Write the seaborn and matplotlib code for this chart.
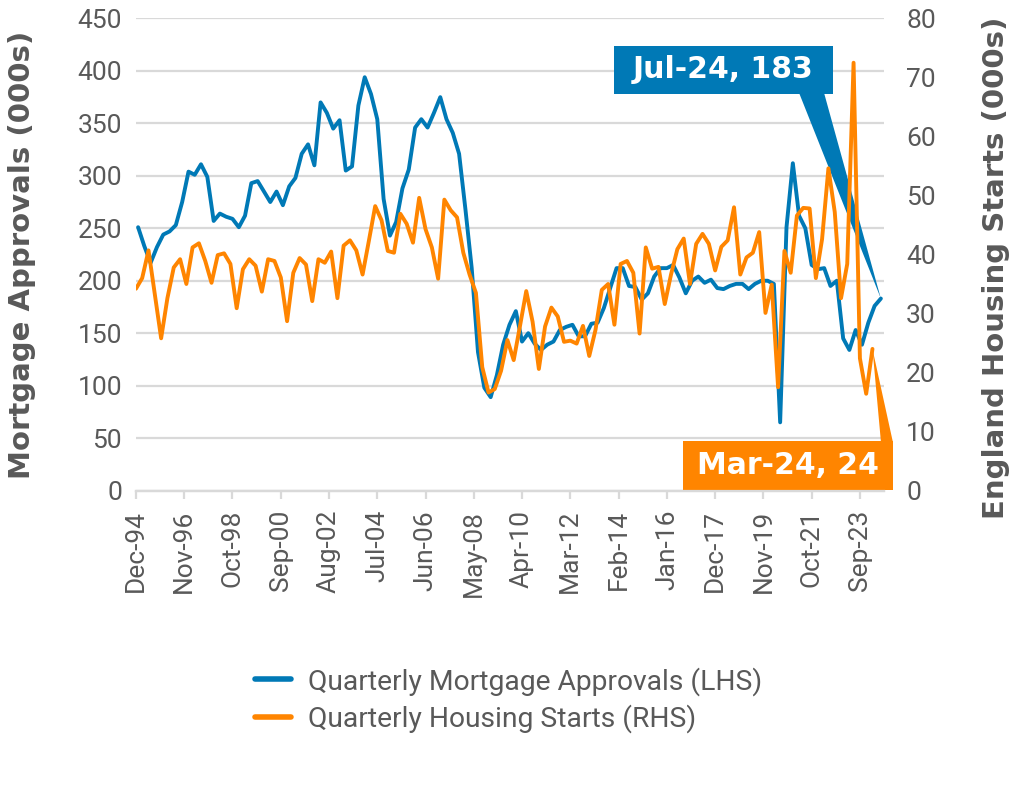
import numpy as np
import pandas as pd
import seaborn as sns
import matplotlib.pyplot as plt
import matplotlib.dates as mdates
from matplotlib.patches import Polygon, Rectangle

# quarterly mortgage approvals (000s), Jan-95 .. Jul-24
approvals = [251, 233, 217, 232, 244, 247, 253, 275, 304, 301,
             311, 299, 257, 264, 261, 259, 251, 262, 293, 295,
             285, 275, 285, 272, 290, 298, 321, 330, 310, 370,
             360, 345, 353, 305, 309, 367, 394, 378, 354, 278,
             243, 256, 288, 306, 346, 354, 346, 360, 375, 354,
             341, 321, 268, 212, 132, 98, 89, 110, 139, 158,
             171, 142, 150, 140, 134, 139, 142, 153, 156, 158,
             147, 147, 159, 160, 174, 193, 212, 212, 195, 194,
             182, 188, 204, 212, 212, 215, 203, 188, 200, 204,
             198, 201, 193, 192, 195, 197, 197, 192, 197, 200,
             200, 197, 65, 251, 312, 262, 250, 215, 211, 212,
             195, 200, 145, 134, 153, 139, 160, 176, 183]

# quarterly England housing starts (000s), Dec-94 .. Mar-24
starts = [34.2, 36.0, 40.7, 33.2, 25.8, 32.6, 37.8, 39.2, 35.0, 41.2,
          41.9, 38.9, 35.2, 39.9, 40.2, 38.4, 30.9, 37.5, 39.2, 38.1,
          33.7, 39.2, 38.9, 36.1, 28.7, 36.9, 39.4, 38.3, 32.1, 39.2,
          38.6, 40.5, 32.6, 41.5, 42.4, 40.7, 36.6, 42.3, 48.2, 45.8,
          40.6, 40.3, 46.9, 45.2, 42.0, 49.6, 44.3, 41.2, 35.9, 49.3,
          47.5, 46.3, 40.3, 36.6, 33.5, 20.9, 16.6, 17.2, 20.3, 25.5,
          22.1, 27.8, 33.8, 28.6, 20.6, 27.8, 31.0, 29.5, 25.2, 25.4,
          24.9, 27.9, 22.8, 27.2, 34.0, 35.0, 28.1, 38.4, 38.9, 36.9,
          26.6, 41.2, 37.6, 37.9, 31.6, 36.6, 40.9, 42.7, 35.0, 41.8,
          43.5, 41.8, 37.3, 41.3, 42.4, 48.0, 36.6, 39.5, 40.3, 43.8,
          30.1, 34.9, 17.5, 40.6, 36.9, 46.6, 47.9, 47.8, 36.0, 42.6,
          54.6, 47.2, 32.6, 38.4, 72.5, 22.4, 16.4, 24.0]

approval_dates = pd.date_range("1995-01-01", periods=len(approvals), freq="3MS")
start_dates = pd.date_range("1994-12-01", periods=len(starts), freq="3MS")
tick_dates = pd.date_range("1994-12-01", "2023-09-01", freq="23MS")

df_a = pd.DataFrame({"date": approval_dates, "value": approvals})
df_s = pd.DataFrame({"date": start_dates, "value": starts})

blue = "#0079B6"
orange = "#FF8500"
grey = "#595959"
light = "#D9D9D9"

sns.set_theme(style="white")
plt.rcParams["font.family"] = ["Roboto", "DejaVu Sans"]

fig = plt.figure(figsize=(10.17, 7.90), dpi=100)
ax = fig.add_axes([0.1337, 0.3791, 0.7355, 0.5975])
ax2 = ax.twinx()

sns.lineplot(data=df_a, x="date", y="value", ax=ax, color=blue, linewidth=2.8,
             label="Quarterly Mortgage Approvals (LHS)", legend=False)
sns.lineplot(data=df_s, x="date", y="value", ax=ax2, color=orange, linewidth=2.8,
             label="Quarterly Housing Starts (RHS)", legend=False)

ax.set_xlim(pd.Timestamp("1994-12-01"), pd.Timestamp("2024-08-15"))
ax.set_ylim(0, 450)
ax2.set_ylim(0, 80)
ax.set_yticks(np.arange(0, 451, 50))
ax2.set_yticks(np.arange(0, 81, 10))
ax.set_xticks(tick_dates)
ax.xaxis.set_major_formatter(mdates.DateFormatter("%b-%y"))

ax.grid(axis="y", color=light, linewidth=1.6)
ax.set_axisbelow(True)
for a in (ax, ax2):
    for s in ("top", "left", "right"):
        a.spines[s].set_visible(False)
    a.spines["bottom"].set_color(light)
    a.spines["bottom"].set_linewidth(1.6)
    a.set_xlabel("")
    a.set_ylabel("")

ax.tick_params(axis="x", labelrotation=90, labelsize=19, labelcolor=grey,
               length=6, width=1.6, color=light, pad=8, bottom=True)
ax.tick_params(axis="y", labelsize=19, labelcolor=grey, length=0, pad=10)
ax2.tick_params(axis="y", labelsize=19, labelcolor=grey, length=0, pad=16)

title_font = dict(fontsize=21, fontweight="bold", color=grey, family="DejaVu Sans")
fig.text(0.022, 1 - 255 / 790, "Mortgage Approvals (000s)", rotation=90,
         ha="center", va="center", **title_font)
fig.text(0.979, 1 - 268 / 790, "England Housing Starts (000s)", rotation=90,
         ha="center", va="center", **title_font)

h1, l1 = ax.get_legend_handles_labels()
h2, l2 = ax2.get_legend_handles_labels()
leg = fig.legend(h1 + h2, l1 + l2, loc="center", bbox_to_anchor=(0.5, 1 - 700 / 790),
                 frameon=False, fontsize=20.3, handlelength=1.3, handletextpad=0.6,
                 labelspacing=0.3)
for t in leg.get_texts():
    t.set_color(grey)
for ln in leg.get_lines():
    ln.set_linewidth(4)

# callouts
to_fig = fig.transFigure.inverted()
tip_a = to_fig.transform(ax.transData.transform(
    (mdates.date2num(approval_dates[-1]), approvals[-1])))
tip_s = to_fig.transform(ax2.transData.transform(
    (mdates.date2num(start_dates[-1]), starts[-1])))

W, H = 1017, 790
call_font = dict(fontsize=21.5, fontweight="bold", color="white", family="DejaVu Sans")

bx0, bx1, by0, by1 = 614 / W, 833 / W, 1 - 94.3 / H, 1 - 45.7 / H
ax2.add_patch(Rectangle((bx0, by0), bx1 - bx0, by1 - by0, transform=fig.transFigure,
                        facecolor=blue, edgecolor="none", clip_on=False, zorder=1))
ax2.add_patch(Polygon([(799 / W, by0 + 0.002), (824 / W, by0 + 0.002), tuple(tip_a)],
                      closed=True, transform=fig.transFigure, facecolor=blue,
                      edgecolor="none", clip_on=False, zorder=1))
fig.text((bx0 + bx1) / 2, (by0 + by1) / 2,
         f"{approval_dates[-1]:%b-%y}, {approvals[-1]}", ha="center", va="center",
         **call_font)

ox0, ox1, oy0, oy1 = 683 / W, 893 / W, 1 - 490 / H, 1 - 441 / H
ax2.add_patch(Rectangle((ox0, oy0), ox1 - ox0, oy1 - oy0, transform=fig.transFigure,
                        facecolor=orange, edgecolor="none", clip_on=False, zorder=1))
ax2.add_patch(Polygon([(881 / W, oy1 - 0.002), (893 / W, oy1 - 0.002), tuple(tip_s)],
                      closed=True, transform=fig.transFigure, facecolor=orange,
                      edgecolor="none", clip_on=False, zorder=1))
fig.text((ox0 + ox1) / 2, (oy0 + oy1) / 2,
         f"{start_dates[-1]:%b-%y}, {starts[-1]:.0f}", ha="center", va="center",
         **call_font)

fig.savefig("out.png", dpi=100)
